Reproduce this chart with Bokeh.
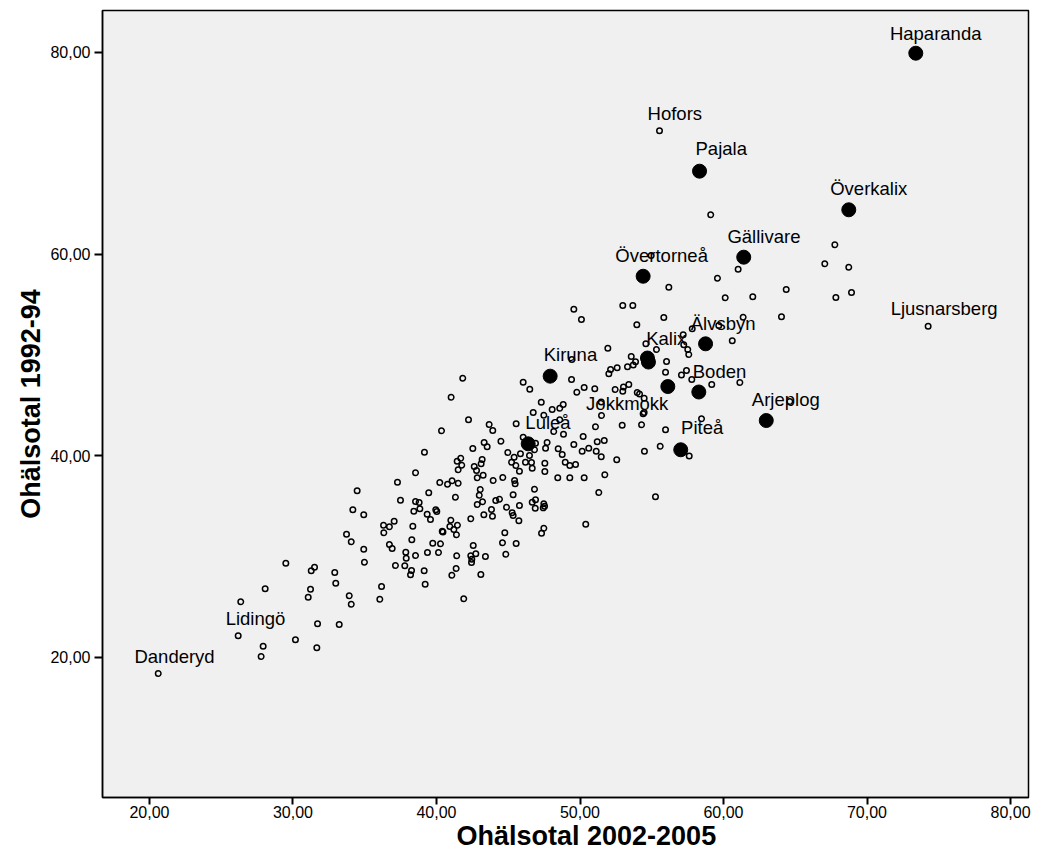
from bokeh.plotting import figure
from bokeh.models import ColumnDataSource, FixedTicker, Range1d, Title
from bokeh.core.properties import value
from bokeh.embed import file_html
from bokeh.resources import INLINE

# ---------------- data ----------------
X_TICKS = [20, 30, 40, 50, 60, 70, 80]
X_TICK_LABELS = ["20,00", "30,00", "40,00", "50,00", "60,00", "70,00", "80,00"]
Y_TICKS = [20, 40, 60, 80]
Y_TICK_LABELS = ["20,00", "40,00", "60,00", "80,00"]

X_TITLE = "Ohälsotal 2002-2005"
Y_TITLE = "Ohälsotal 1992-94"

# unlabeled municipalities (x = 2002-2005, y = 1992-94)
OTHER_X = [29.50, 28.06, 34.06, 26.36, 31.71, 33.22, 30.17, 31.66, 27.92, 27.78,
           43.67, 43.92, 40.35, 39.16, 42.53, 43.32, 43.53, 44.49, 41.44, 41.69,
           41.76, 41.51, 42.63, 42.79, 43.11, 43.18, 42.84, 43.25, 43.95, 38.54,
           37.28, 40.23, 40.77, 41.09, 41.51, 39.46, 41.32, 43.05, 42.98, 43.21,
           42.84, 44.13, 44.39, 34.47, 37.49, 38.54, 38.79, 38.42, 38.84, 39.35,
           39.58, 39.95, 40.02, 34.17, 34.93, 42.39, 43.30, 43.83, 43.90, 41.00,
           40.93, 41.46, 41.21, 41.39, 40.40, 40.45, 36.31, 36.72, 37.05, 36.33,
           38.35, 33.73, 34.06, 38.28, 36.72, 36.91, 34.93, 34.98, 39.74, 40.28,
           42.56, 37.86, 37.89, 37.79, 38.54, 39.37, 40.14, 37.14, 38.26, 38.19,
           39.14, 39.21, 41.41, 41.37, 41.07, 42.39, 42.46, 42.44, 42.74, 43.41,
           43.09, 31.27, 31.50, 32.91, 32.98, 31.22, 31.06, 33.92, 36.17, 36.05,
           41.90, 41.83, 41.02, 42.23, 56.19, 49.57, 50.10, 52.98, 53.68, 55.84,
           53.96, 57.19, 54.59, 55.33, 51.94, 57.23, 57.51, 57.58, 53.57, 53.87,
           53.71, 53.31, 52.59, 52.13, 52.01, 56.03, 55.96, 57.07, 57.42, 49.41,
           49.78, 50.29, 51.03, 52.45, 53.03, 53.40, 52.98, 53.99, 54.15, 54.47,
           54.40, 54.47, 51.48, 51.50, 46.04, 46.50, 49.43, 47.30, 46.74, 47.48,
           48.06, 48.59, 48.83, 48.59, 45.55, 46.04, 46.90, 46.83, 48.17, 48.85,
           47.71, 47.60, 48.48, 48.76, 49.57, 50.22, 51.08, 50.15, 50.61, 51.13,
           51.20, 51.69, 51.48, 52.94, 54.29, 55.96, 54.49, 55.59, 57.61, 52.56,
           51.73, 51.31, 55.26, 50.40, 44.97, 45.41, 45.85, 46.48, 45.23, 45.53,
           45.78, 46.20, 46.62, 46.67, 47.55, 47.55, 48.97, 49.29, 49.69, 48.45,
           49.29, 50.29, 44.62, 45.44, 45.48, 45.34, 46.83, 44.88, 45.78, 45.27,
           45.34, 45.74, 46.67, 46.90, 46.88, 47.48, 47.53, 47.44, 47.48, 47.32,
           44.76, 44.60, 45.55, 44.83, 60.12, 62.04, 64.37, 67.83, 68.92, 61.37,
           64.04, 57.82, 59.67, 60.61, 57.79, 59.18, 61.14, 64.62, 58.47, 59.11,
           67.76, 67.06, 68.73, 61.02, 59.58, 54.96]
OTHER_Y = [29.35, 26.81, 25.28, 25.52, 23.34, 23.27, 21.75, 20.96, 21.12, 20.10,
           43.11, 42.51, 42.48, 40.36, 40.73, 41.32, 40.89, 41.45, 39.47, 39.76,
           39.07, 38.61, 38.94, 38.54, 39.21, 39.63, 37.82, 38.08, 37.55, 38.32,
           37.38, 37.35, 37.19, 37.52, 37.28, 36.33, 35.90, 36.66, 36.09, 35.44,
           35.17, 35.57, 35.70, 36.53, 35.60, 35.47, 35.37, 34.51, 34.75, 34.21,
           33.68, 34.65, 34.48, 34.65, 34.15, 33.75, 34.15, 34.68, 34.01, 33.62,
           32.99, 33.12, 32.69, 32.17, 32.52, 32.45, 33.12, 32.96, 33.52, 32.37,
           33.02, 32.23, 31.47, 31.67, 31.20, 30.81, 30.74, 29.45, 31.33, 31.27,
           31.11, 30.44, 29.85, 29.09, 30.11, 30.41, 30.41, 29.12, 28.63, 28.20,
           28.60, 27.27, 30.08, 28.82, 28.16, 30.08, 29.75, 29.42, 30.28, 30.02,
           28.23, 28.60, 28.95, 28.43, 27.37, 26.77, 25.98, 26.12, 27.04, 25.78,
           25.82, 47.70, 45.81, 43.57, 56.72, 54.54, 53.52, 54.91, 54.91, 53.72,
           52.99, 52.00, 51.11, 50.54, 50.67, 51.01, 50.54, 50.05, 49.85, 49.32,
           49.01, 48.83, 48.73, 48.56, 48.13, 49.35, 48.29, 48.02, 48.46, 47.57,
           46.31, 46.78, 46.65, 46.58, 46.83, 47.07, 46.41, 46.28, 46.13, 45.71,
           44.17, 44.30, 45.34, 44.00, 47.30, 46.61, 49.55, 45.32, 44.30, 44.03,
           44.59, 44.72, 45.09, 43.57, 43.18, 41.85, 41.25, 40.60, 42.41, 42.14,
           41.32, 40.76, 40.70, 40.13, 41.12, 41.92, 42.88, 40.46, 40.76, 40.46,
           41.39, 41.52, 39.90, 43.04, 43.08, 42.58, 40.46, 40.95, 39.98, 39.61,
           38.12, 36.36, 35.94, 33.22, 40.33, 39.86, 40.20, 40.03, 39.37, 39.04,
           38.47, 39.37, 39.34, 38.77, 39.27, 38.44, 39.37, 39.04, 39.14, 37.82,
           37.82, 37.82, 37.85, 37.55, 37.22, 36.13, 36.69, 34.90, 35.07, 34.35,
           34.08, 33.55, 35.40, 35.64, 34.81, 35.24, 35.00, 34.84, 32.82, 32.33,
           32.37, 31.37, 31.30, 30.24, 55.67, 55.77, 56.50, 55.70, 56.20, 53.75,
           53.79, 52.60, 52.92, 51.41, 47.57, 47.07, 47.27, 45.39, 43.67, 63.90,
           60.93, 59.04, 58.71, 58.51, 57.62, 59.87]

# labeled municipalities outside Norrbotten (hollow markers)
OUT_NAMES = ["Hofors", "Ljusnarsberg", "Lidingö", "Danderyd"]
OUT_X = [55.54, 74.26, 26.18, 20.61]
OUT_Y = [72.23, 52.86, 22.15, 18.41]

# Norrbotten municipalities (filled markers)
NB_NAMES = ["Haparanda", "Pajala", "Överkalix", "Gällivare", "Övertorneå",
            "Älvsbyn", "Kalix", "Arvidsjaur", "Kiruna", "Jokkmokk", "Boden",
            "Arjeplog", "Luleå", "Piteå"]
NB_X = [73.40, 58.33, 68.73, 61.41, 54.40, 58.75, 54.70, 54.77, 47.92, 56.12,
        58.28, 62.98, 46.39, 57.02]
NB_Y = [79.93, 68.23, 64.40, 59.70, 57.81, 51.11, 49.70, 49.30, 47.90, 46.87,
        46.33, 43.50, 41.19, 40.60]

# ---------------- label placement (screen px, baseline relative to point) ----------------
LABEL_OFFSETS = {
    "Haparanda": (19.9, -12.7), "Hofors": (15.3, -10.3), "Pajala": (21.7, -15.0),
    "Överkalix": (20.0, -13.6), "Gällivare": (20.2, -12.7), "Övertorneå": (18.5, -13.0),
    "Kiruna": (20.3, -14.0), "Kalix": (18.8, -11.8), "Jokkmokk": (-40.6, 24.7),
    "Luleå": (19.8, -14.0), "Älvsbyn": (17.5, -13.3), "Boden": (20.7, -13.2),
    "Arjeplog": (19.5, -13.3), "Piteå": (21.4, -14.3), "Ljusnarsberg": (16.0, -10.0),
    "Danderyd": (16.3, -9.7), "Lidingö": (17.3, -10.3),
}
BASELINE_FIX = -7.5  # renderer baseline correction

FONT = "Liberation Sans"

p = figure(width=1036, height=858, output_backend="svg", toolbar_location=None,
           x_range=Range1d(16.725, 81.254), y_range=Range1d(6.115, 84.165),
           min_border_left=102, min_border_right=8, min_border_top=10, min_border_bottom=61)

p.background_fill_color = "#f0f0f0"
p.border_fill_color = "white"
p.outline_line_color = "black"
p.outline_line_width = 1.5
p.xgrid.visible = False
p.ygrid.visible = False

# points
p.scatter(OTHER_X, OTHER_Y, size=5.5, marker="circle", fill_alpha=0,
          line_color="black", line_width=1.5)
p.scatter(OUT_X, OUT_Y, size=5.5, marker="circle", fill_alpha=0,
          line_color="black", line_width=1.5)
p.scatter(NB_X, NB_Y, size=14, marker="circle", fill_color="black",
          line_color="black", line_width=1)

# labels
lab_names, lab_x, lab_y, lab_dx, lab_dy = [], [], [], [], []
for names, xs, ys in ((OUT_NAMES, OUT_X, OUT_Y), (NB_NAMES, NB_X, NB_Y)):
    for n, xv, yv in zip(names, xs, ys):
        if n in LABEL_OFFSETS:
            lab_names.append(n)
            lab_x.append(xv)
            lab_y.append(yv)
            lab_dx.append(LABEL_OFFSETS[n][0])
            lab_dy.append(LABEL_OFFSETS[n][1] + BASELINE_FIX)
src = ColumnDataSource(dict(x=lab_x, y=lab_y, t=lab_names, dx=lab_dx, dy=lab_dy))
p.text(x="x", y="y", text="t", x_offset="dx", y_offset="dy", source=src,
       text_align="center", text_baseline="alphabetic",
       text_font=value(FONT), text_font_size="18.5px", text_color="black")

# axes
p.xaxis.ticker = FixedTicker(ticks=X_TICKS)
p.yaxis.ticker = FixedTicker(ticks=Y_TICKS)
p.xaxis.major_label_overrides = {t: l for t, l in zip(X_TICKS, X_TICK_LABELS)}
p.yaxis.major_label_overrides = {t: l for t, l in zip(Y_TICKS, Y_TICK_LABELS)}
for ax in (p.xaxis, p.yaxis):
    ax.axis_line_color = "black"
    ax.axis_line_width = 1.5
    ax.major_tick_line_color = "black"
    ax.major_tick_line_width = 2
    ax.major_tick_out = 8
    ax.major_tick_in = 0
    ax.minor_tick_line_color = None
    ax.major_label_text_font = FONT
    ax.major_label_text_font_size = "16px"
    ax.major_label_text_color = "black"
    ax.major_label_standoff = 4
    ax.axis_label_text_font = FONT
    ax.axis_label_text_font_style = "bold"
    ax.axis_label_text_font_size = "27px"
    ax.axis_label_text_color = "black"
p.yaxis.axis_label = Y_TITLE
p.xaxis.major_tick_out = 7
p.xaxis.major_label_standoff = 1
p.yaxis.axis_label_standoff = 1
p.yaxis.major_label_orientation = "horizontal"

# x-axis title, placed slightly right of centre as in the original
p.add_layout(Title(text=X_TITLE, align="left", offset=354, standoff=-4,
                   text_font=FONT, text_font_style="bold", text_font_size="27px",
                   text_color="black"), "below")

open("out.html", "w").write(file_html(p, INLINE))
